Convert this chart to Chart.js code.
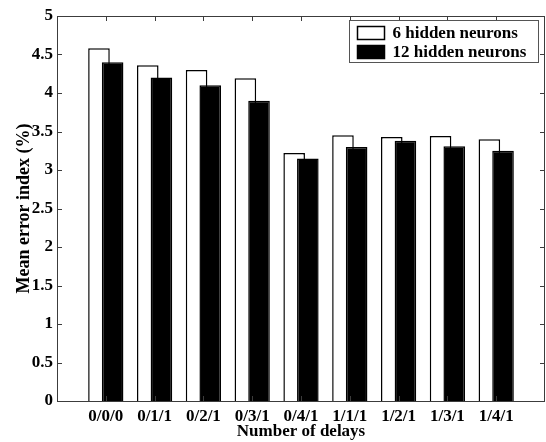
<!DOCTYPE html>
<html>
<head>
<meta charset="utf-8">
<script src="https://cdn.jsdelivr.net/npm/chart.js@4.4.1/dist/chart.umd.min.js"></script>
<style>
  html, body { margin: 0; padding: 0; background: #fff; }
  #wrap { width: 546px; height: 442px; }
</style>
</head>
<body>
<div id="wrap"><canvas id="errorChart"></canvas></div>
<script>
const delayLabels = ['0/0/0', '0/1/1', '0/2/1', '0/3/1', '0/4/1', '1/1/1', '1/2/1', '1/3/1', '1/4/1'];
const sixHidden = [4.58, 4.36, 4.30, 4.19, 3.22, 3.45, 3.43, 3.44, 3.40];
const twelveHidden = [4.40, 4.20, 4.10, 3.90, 3.15, 3.30, 3.38, 3.31, 3.25];
const yTickLabels = ['0', '0.5', '1', '1.5', '2', '2.5', '3', '3.5', '4', '4.5', '5'];

const FONT = 'Liberation Serif, Times New Roman, serif';
const FRAME = '#3c3c3c';

// draw datasets first-to-last so the black bars sit over the white ones
const drawInOrder = {
    id: 'drawInOrder',
    beforeDatasetsDraw(chart) {
        chart.getSortedVisibleDatasetMetas().forEach(m => m.controller.draw());
        return false;
    }
};

// matlab style box with inward ticks, plus the boxed legend
const boxAndLegend = {
    id: 'boxAndLegend',
    afterDraw(chart) {
        const { ctx, chartArea: a, scales: { x, y } } = chart;
        ctx.save();
        ctx.strokeStyle = FRAME;
        ctx.lineWidth = 1;
        ctx.beginPath();
        y.ticks.forEach(t => {
            const py = Math.round(y.getPixelForValue(t.value)) + 0.5;
            ctx.moveTo(a.left, py); ctx.lineTo(a.left + 5, py);
            ctx.moveTo(a.right, py); ctx.lineTo(a.right - 5, py);
        });
        delayLabels.forEach((_, i) => {
            const px = Math.round(x.getPixelForValue(i + 1)) + 0.5;
            ctx.moveTo(px, a.top); ctx.lineTo(px, a.top + 5);
            ctx.moveTo(px, a.bottom); ctx.lineTo(px, a.bottom - 5);
        });
        ctx.stroke();
        ctx.strokeRect(Math.round(a.left) + 0.5, Math.round(a.top) + 0.5,
            Math.round(a.width) - 1, Math.round(a.height));

        // legend
        const bx = Math.round(a.right) - 195.5, by = Math.round(a.top) + 4.5;
        ctx.fillStyle = '#fff';
        ctx.fillRect(bx, by, 189, 42);
        ctx.strokeStyle = '#555';
        ctx.strokeRect(bx, by, 189, 42);
        ctx.font = 'bold 17px ' + FONT;
        ctx.textBaseline = 'middle';
        chart.data.datasets.forEach((ds, i) => {
            const cy = by + 12 + i * 19;
            ctx.fillStyle = ds.backgroundColor;
            ctx.strokeStyle = '#000';
            ctx.lineWidth = 1.5;
            ctx.fillRect(bx + 8, cy - 6, 27, 13);
            ctx.strokeRect(bx + 8, cy - 6, 27, 13);
            ctx.fillStyle = '#000';
            ctx.fillText(ds.label, bx + 43, cy + 1);
        });
        ctx.restore();
    }
};

const ctx = document.getElementById('errorChart').getContext('2d');
new Chart(ctx, {
    type: 'bar',
    data: {
        datasets: [{
            label: '6 hidden neurons',
            data: sixHidden.map((v, i) => ({ x: i + 1, y: v })),
            backgroundColor: '#ffffff',
            borderColor: '#000000',
            borderWidth: 1.5,
            categoryPercentage: 0.56,
            barPercentage: 1.58
        }, {
            label: '12 hidden neurons',
            data: twelveHidden.map((v, i) => ({ x: i + 1, y: v })),
            backgroundColor: '#000000',
            borderColor: '#000000',
            borderWidth: 1.5,
            categoryPercentage: 0.56,
            barPercentage: 1.58
        }]
    },
    options: {
        animation: false,
        responsive: true,
        maintainAspectRatio: false,
        layout: { padding: { top: 16, right: 1, left: 0, bottom: 0 } },
        plugins: { legend: { display: false }, tooltip: { enabled: false } },
        scales: {
            x: {
                type: 'linear',
                min: 0,
                max: 10,
                offset: false,
                grid: { display: false, drawTicks: false },
                border: { display: false },
                afterFit: s => { s.height = 41; s.paddingLeft = 0; s.paddingRight = 0; },
                afterBuildTicks: s => { s.ticks = [0,1,2,3,4,5,6,7,8,9,10].map(v => ({ value: v })); },
                ticks: {
                    autoSkip: false,
                    maxRotation: 0,
                    padding: 5,
                    color: '#000',
                    font: { family: FONT, size: 17, weight: 'bold' },
                    callback: v => delayLabels[v - 1] || ''
                },
                title: {
                    display: true,
                    text: 'Number of delays',
                    color: '#000',
                    padding: { top: -6, bottom: 0 },
                    font: { family: FONT, size: 17, weight: 'bold' }
                }
            },
            y: {
                min: 0,
                max: 5,
                grid: { display: false, drawTicks: false },
                border: { display: false },
                afterFit: s => { s.width = 57; },
                afterBuildTicks: s => { s.ticks = yTickLabels.map((_, i) => ({ value: i * 0.5 })); },
                ticks: {
                    padding: 4,
                    color: '#000',
                    font: { family: FONT, size: 17, weight: 'bold' },
                    callback: (v, i) => yTickLabels[i]
                },
                title: {
                    display: true,
                    text: 'Mean error index (%)',
                    color: '#000',
                    padding: { top: 14, bottom: 0 },
                    font: { family: FONT, size: 18, weight: 'bold' }
                }
            }
        }
    },
    plugins: [drawInOrder, boxAndLegend]
});
</script>
</body>
</html>
